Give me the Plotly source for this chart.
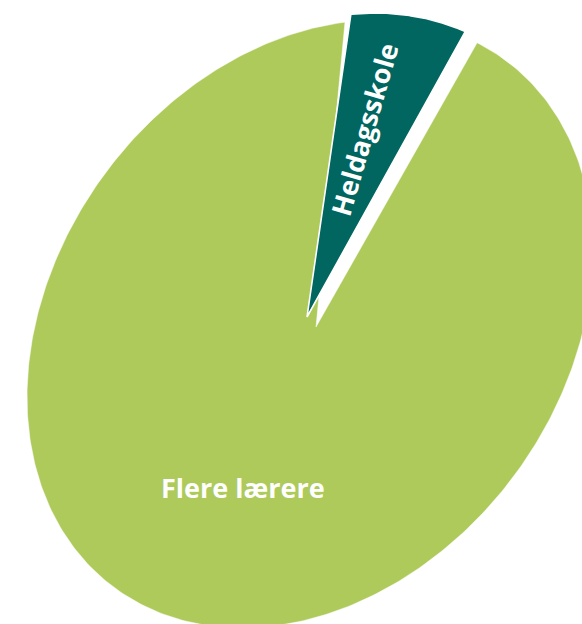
import numpy as np
import plotly.graph_objects as go

# ---- data ----
labels = ["Heldagsskole", "Flere lærere"]
values = [7, 93]
colors = ["#00665f", "#adca5a"]

# ---- geometry / style (pixel-like axis units) ----
W, H = 582, 624
CX, CY = 310.0, 324.0            # ellipse centre
A_AX, B_AX = 328.3, 254.3        # semi-axes of the tilted (perspective) pie
TILT = np.radians(53.3)          # major-axis tilt
V1 = np.array([np.cos(TILT), -np.sin(TILT)])
V2 = np.array([np.sin(TILT), np.cos(TILT)])
START = -35.1                    # start angle of first slice (degrees, pie space)
GAP_AFTER, GAP_BEFORE = 2.2, 1.7 # visual gaps around the exploded slice (degrees)
APEX_SHIFT = [np.array([-3.0, -7.0]), np.array([6.0, 3.0])]
ARC_SHIFT = [np.array([-3.0, -7.0]), np.array([0.0, 0.0])]


def ell(theta_deg, r=1.0):
    t = np.radians(theta_deg)
    p = (r * A_AX * np.cos(t))[..., None] * V1 + (r * B_AX * np.sin(t))[..., None] * V2
    return CX + p[..., 0], CY + p[..., 1]


total = float(sum(values))
span0 = values[0] / total * 360.0
ranges = [
    (START, START + span0),
    (START + span0 + GAP_AFTER, START + 360.0 - GAP_BEFORE),
]

fig = go.Figure()
order = [1, 0]  # draw big slice first, exploded slice on top
for i in order:
    a0, a1 = ranges[i]
    th = np.linspace(a0, a1, 400)
    ax, ay = ell(th)
    ax = ax + ARC_SHIFT[i][0]
    ay = ay + ARC_SHIFT[i][1]
    apx = CX + APEX_SHIFT[i][0]
    apy = CY + APEX_SHIFT[i][1]
    xs = np.concatenate([[apx], ax, [apx]])
    ys = np.concatenate([[apy], ay, [apy]])
    fig.add_trace(go.Scatter(
        x=xs, y=ys, mode="lines", fill="toself",
        fillcolor=colors[i],
        line=dict(color="white", width=1.6 if i == 0 else 0.5),
        name=labels[i], hoverinfo="name", showlegend=False,
    ))

# labels
mid0 = sum(ranges[0]) / 2
lx0, ly0 = ell(np.array(mid0), 0.6)
fig.add_annotation(x=float(lx0) + APEX_SHIFT[0][0] - 5, y=float(ly0) + APEX_SHIFT[0][1] - 7,
                   text="<b>" + labels[0] + "</b>", textangle=-74, showarrow=False,
                   font=dict(family="Open Sans", size=27, color="white"),
                   xref="x", yref="y")
mid1 = sum(ranges[1]) / 2
lx1, ly1 = ell(np.array(mid1 + 4), 0.55)
fig.add_annotation(x=float(lx1), y=float(ly1),
                   text="<b>" + labels[1] + "</b>", showarrow=False,
                   font=dict(family="Open Sans", size=27, color="white"),
                   xref="x", yref="y")

fig.update_layout(
    width=W, height=H,
    margin=dict(l=0, r=0, t=0, b=0),
    paper_bgcolor="white", plot_bgcolor="white",
    xaxis=dict(range=[0, W], visible=False, fixedrange=True),
    yaxis=dict(range=[H, 0], visible=False, fixedrange=True),
    showlegend=False,
)
fig.write_html(
    "out.html",
    config={"displayModeBar": False},
    post_script="document.body.style.margin='0';document.body.style.overflow='hidden';",
)
